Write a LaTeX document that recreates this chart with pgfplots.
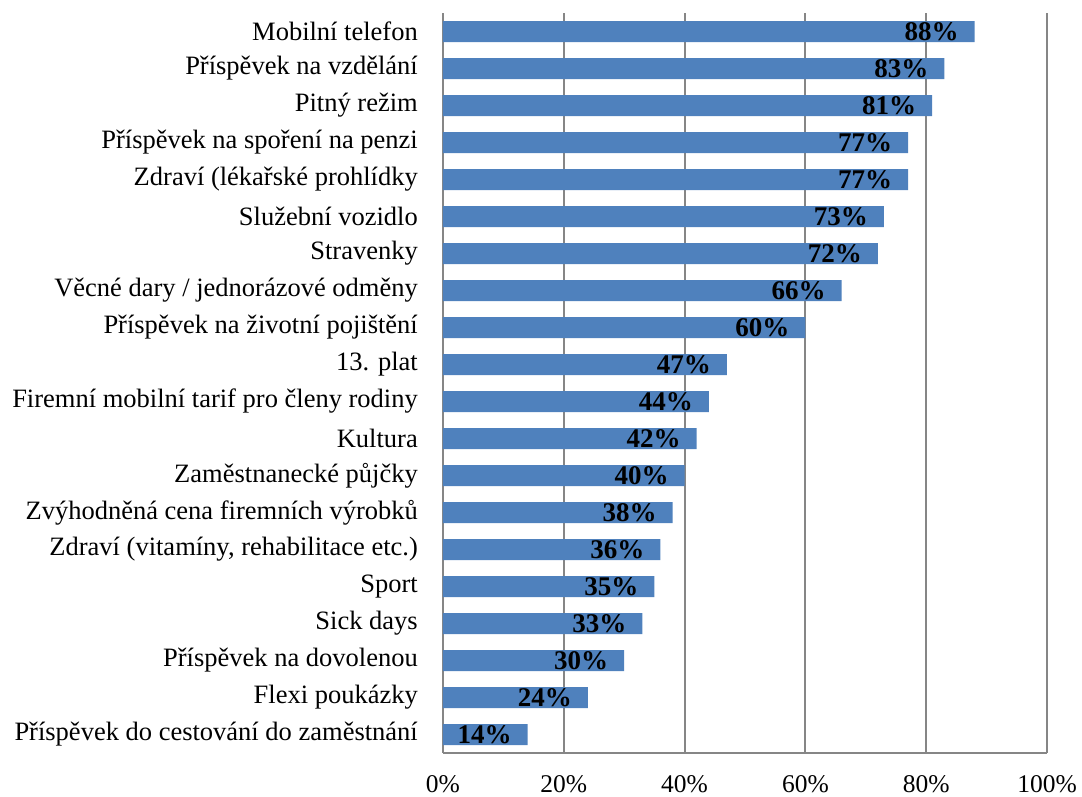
\documentclass[border=0pt]{standalone}
\usepackage{fontspec}
\setmainfont{Liberation Serif}
\usepackage{pgfplots}
\pgfplotsset{compat=1.18}
\definecolor{barblue}{HTML}{4F81BD}
\definecolor{gridgray}{HTML}{868686}
\pgfplotstableread{
y val
0 88
1 83
2 81
3 77
4 77
5 73
6 72
7 66
8 60
9 47
10 44
11 42
12 40
13 38
14 36
15 35
16 33
17 30
18 24
19 14
}\datatable
\begin{document}
\fontsize{24}{28}\selectfont
\begin{tikzpicture}
\begin{axis}[
  scale only axis, width=604pt, height=740pt,
  xbar, bar width=21pt,
  xmin=0, xmax=100,
  ymin=-0.5, ymax=19.5, y dir=reverse,
  ytick={0,...,19},
  yticklabels={Mobilní telefon,Příspěvek na vzdělání,Pitný režim,Příspěvek na spoření na penzi,Zdraví (lékařské prohlídky,Služební vozidlo,Stravenky,Věcné dary / jednorázové odměny,Příspěvek na životní pojištění,13. plat,Firemní mobilní tarif pro členy rodiny,Kultura,Zaměstnanecké půjčky,Zvýhodněná cena firemních výrobků,{Zdraví (vitamíny, rehabilitace etc.)},Sport,Sick days,Příspěvek na dovolenou,Flexi poukázky,Příspěvek do cestování do zaměstnání},
  xtick={0,20,...,100},
  xticklabel={\pgfmathprintnumber[assume math mode=true]{\tick}\%},
  xmajorgrids, grid style={gridgray, line width=2pt},
  axis x line*=bottom, axis y line*=left,
  axis line style={gridgray, line width=2pt, -},
  major tick length=0pt,
  tick label style={black},
  yticklabel style={font=\fontsize{26.5}{30}\selectfont, inner sep=0pt, anchor=east, xshift=-25pt},
  xticklabel style={font=\fontsize{25.5}{29}\selectfont, inner sep=0pt, anchor=north, yshift=-22pt},
  clip=false,
]
\addplot[fill=barblue, draw=none,
  point meta=x,
  nodes near coords={\pgfmathprintnumber[assume math mode=true]{\pgfplotspointmeta}\%},
  every node near coord/.append style={font=\bfseries\fontsize{27}{30}\selectfont, black, anchor=center, xshift=-43pt},
] table[x=val, y=y] {\datatable};
\end{axis}
\pgfresetboundingbox
\path (current axis.south west) ++(-443pt,-43pt) rectangle ++(1082pt,796pt);
\end{tikzpicture}
\end{document}
